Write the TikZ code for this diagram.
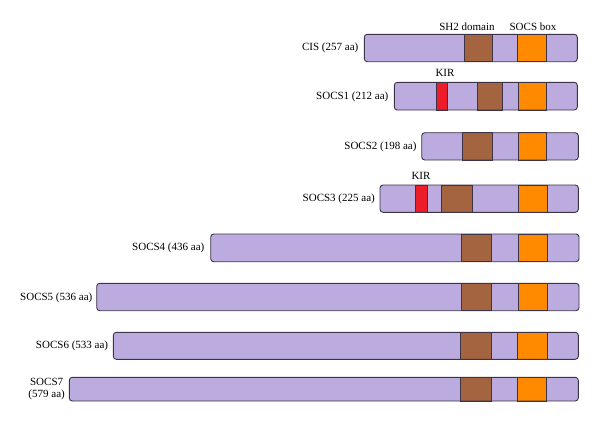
\documentclass[tikz,border=0pt]{standalone}
\usepackage{fontspec}
\setmainfont{Liberation Serif}
\definecolor{lav}{HTML}{BBABDE}
\definecolor{sh2}{HTML}{A4643F}
\definecolor{boxor}{HTML}{FF8A00}
\definecolor{kir}{HTML}{EC1C28}
\definecolor{edge}{HTML}{3C3446}
\newcommand\protbar[4]{%
  \fill[lav,rounded corners=3pt] (#3,#1) rectangle (#4,#2);}
\newcommand\protedge[4]{%
  \draw[edge,line width=0.9pt,rounded corners=3pt] (#3,#1) rectangle (#4,#2);}
\newcommand\dom[5]{%
  \draw[edge,line width=0.9pt,fill=#1] (#4,#2) rectangle (#5,#3);}
\begin{document}
\begin{tikzpicture}[x=1pt,y=-1pt,
  lbl/.style={anchor=east,inner sep=0pt,font=\fontsize{11}{12.5}\selectfont},
  top/.style={inner sep=0pt,font=\fontsize{11}{12.5}\selectfont}]
\useasboundingbox (0,0) rectangle (600,423);
% CIS
\protbar{34.3}{61.7}{364.3}{577.3}
\dom{sh2}{34.3}{61.7}{464.3}{492.7}
\dom{boxor}{34.3}{61.7}{517.7}{546}
\protedge{34.3}{61.7}{364.3}{577.3}
\node[lbl] (cis) at (358.5,48) {CIS (257 aa)};
\node[top] (sh2lab) at (467,26.5) {SH2 domain};
\node[top] (boxlab) at (533,26.5) {SOCS box};
% SOCS1
\protbar{82.3}{110}{394.3}{577.3}
\dom{kir}{82.3}{110}{436.7}{447.3}
\dom{sh2}{82.3}{110}{477.3}{502.7}
\dom{boxor}{82.3}{110}{518.3}{546.7}
\protedge{82.3}{110}{394.3}{577.3}
\node[lbl] (s1) at (388.5,96.5) {SOCS1 (212 aa)};
\node[top] (kir1) at (445,72.5) {KIR};
% SOCS2
\protbar{132.7}{160}{421.7}{578.3}
\dom{sh2}{132.7}{160}{462.3}{492.3}
\dom{boxor}{132.7}{160}{518.3}{546.7}
\protedge{132.7}{160}{421.7}{578.3}
\node[lbl] (s2) at (416.7,147) {SOCS2 (198 aa)};
% SOCS3
\protbar{185}{212.3}{380}{578.3}
\dom{kir}{185}{212.3}{415.7}{427.7}
\dom{sh2}{185}{212.3}{441}{472.3}
\dom{boxor}{185}{212.3}{518.3}{547.3}
\protedge{185}{212.3}{380}{578.3}
\node[lbl] (s3) at (375,199) {SOCS3 (225 aa)};
\node[top] (kir3) at (421,175.5) {KIR};
% SOCS4
\protbar{234}{261.7}{210.7}{579}
\dom{sh2}{234}{261.7}{461}{491.7}
\dom{boxor}{234}{261.7}{518.3}{547.3}
\protedge{234}{261.7}{210.7}{579}
\node[lbl] (s4) at (204.5,248) {SOCS4 (436 aa)};
% SOCS5
\protbar{283.3}{310.7}{96.7}{579}
\dom{sh2}{283.3}{310.7}{461}{491.7}
\dom{boxor}{283.3}{310.7}{518.3}{547.3}
\protedge{283.3}{310.7}{96.7}{579}
\node[lbl] (s5) at (92.5,297.5) {SOCS5 (536 aa)};
% SOCS6
\protbar{332.3}{359.3}{113.3}{578.3}
\dom{sh2}{332.3}{359.3}{460.7}{491.7}
\dom{boxor}{332.3}{359.3}{517.7}{547}
\protedge{332.3}{359.3}{113.3}{578.3}
\node[lbl] (s6) at (108.3,346) {SOCS6 (533 aa)};
% SOCS7
\protbar{377.3}{401}{69.3}{578.3}
\dom{sh2}{377.3}{401}{460.3}{491.7}
\dom{boxor}{377.3}{401}{517.3}{546.7}
\protedge{377.3}{401}{69.3}{578.3}
\node[lbl,align=center] (s7) at (65,389) {SOCS7\\(579 aa)};
\end{tikzpicture}
\end{document}
